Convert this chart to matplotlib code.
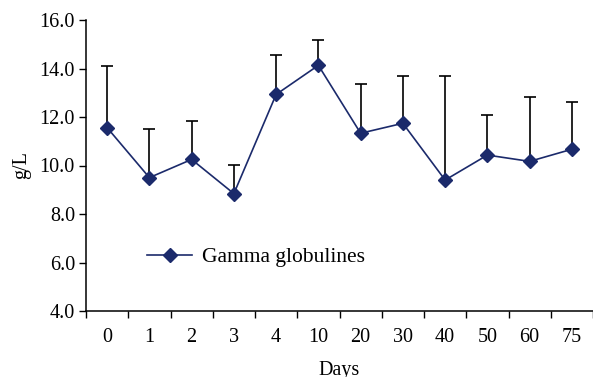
"""Gamma globulines over days, mean with upper error bars."""
import matplotlib
matplotlib.use("Agg")
import matplotlib.pyplot as plt
import numpy as np

DAYS = ["0", "1", "2", "3", "4", "10", "20", "30", "40", "50", "60", "75"]
GAMMA_MEAN = [11.56, 9.50, 10.25, 8.84, 12.93, 14.13, 11.33, 11.74, 9.40, 10.43, 10.17, 10.67]
GAMMA_TOP = [14.10, 11.52, 11.85, 10.03, 14.56, 15.18, 13.37, 13.68, 13.68, 12.10, 12.84, 12.61]

NAVY = "#1b2a6b"

plt.rcParams.update({
    "font.family": ["Liberation Serif", "DejaVu Serif"],
    "font.size": 14.5,
})

fig = plt.figure(figsize=(5.93, 3.77), dpi=100)
ax = fig.add_axes([86 / 593, 1 - 311 / 377, (593 - 86) / 593, 291 / 377])

x = np.arange(len(DAYS))
mean = np.array(GAMMA_MEAN)
upper = np.array(GAMMA_TOP) - mean

ax.errorbar(x, mean, yerr=[np.zeros_like(upper), upper], fmt="none",
            ecolor="black", elinewidth=1.2, capsize=4.5, capthick=1.2, zorder=2)
ax.plot(x, mean, color=NAVY, linewidth=1.2, marker="D", markersize=7,
        markerfacecolor=NAVY, markeredgecolor=NAVY, label="Gamma globulines", zorder=3)

ax.set_ylim(4, 16)
ax.set_yticks(np.arange(4, 16.1, 2))
ax.set_yticklabels([f"{v:.1f}" for v in np.arange(4, 16.1, 2)])
ax.set_xlim(-0.5, len(DAYS) - 0.5 - 0.15)

ax.set_xticks(x)
ax.set_xticklabels(DAYS)
ax.set_xticks(np.arange(-0.5, len(DAYS) + 0.5), minor=True)
ax.tick_params(axis="x", which="major", length=0, pad=12)
ax.tick_params(axis="x", which="minor", length=5, direction="out", width=1)
ax.tick_params(axis="y", length=5, direction="out", width=1, pad=3)

for side in ("top", "right"):
    ax.spines[side].set_visible(False)
for side in ("left", "bottom"):
    ax.spines[side].set_linewidth(1.1)

ax.set_ylabel("g/L", labelpad=6)
ax.set_xlabel("Days", labelpad=10)

ax.legend(loc="center left", bbox_to_anchor=(0.082, 0.184), frameon=False,
          handlelength=2.1, handletextpad=0.45, fontsize=15.5)

fig.savefig("out.png", dpi=100)
